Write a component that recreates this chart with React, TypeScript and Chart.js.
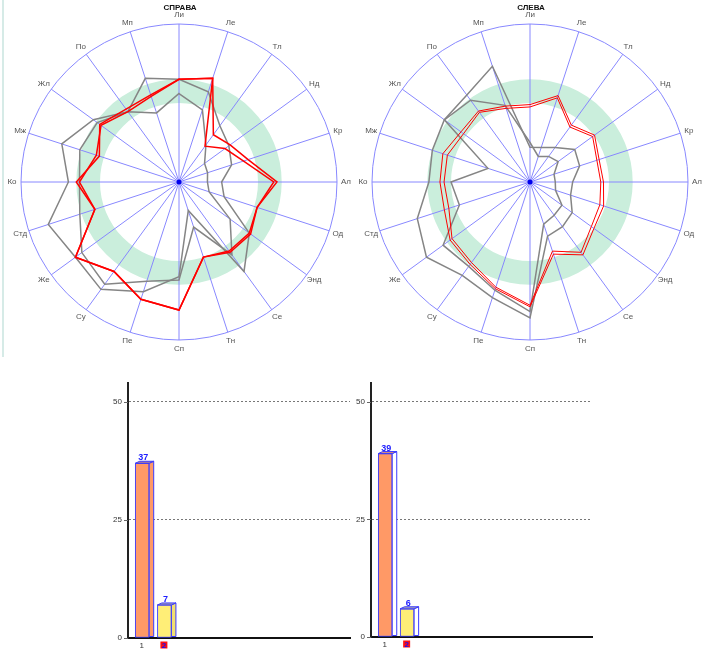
import React, { useEffect, useRef } from "react";
import { Chart, registerables } from "chart.js";

Chart.register(...registerables);

// ---------- radar data ----------
const radarLabels = ["Ли", "Ле", "Тл", "Нд", "Кр", "Ал", "Од", "Энд", "Се", "Тн", "Сп", "Пе", "Су", "Же", "Стд", "Ко", "Мж", "Жл", "По", "Мп"];

// СПРАВА
const spravaRedA = [65, 69, 37, 40, 46, 62, 52, 55, 54, 50, 81, 78, 70, 81, 56, 65, 53, 62, 57, 58];
const spravaRedB = [65, 69, 28, 36, 43, 60, 52, 56, 55, 50, 81, 78, 70, 81, 56, 63, 55, 61, 55, 57];
const spravaGrayA = [65, 60, 44, 39, 35, 27, 30, 55, 70, 19, 60, 73, 84, 81, 87, 70, 78, 67, 55, 69];
const spravaGrayB = [56, 48, 29, 20, 19, 18, 20, 40, 57, 30, 62, 66, 80, 76, 66, 63, 66, 64, 55, 46];

// СЛЕВА
const slevaRedA = [49, 57.5, 44.5, 50.5, 46, 46.5, 49, 50, 57, 48, 79, 71, 64.5, 62.5, 57, 57, 58, 54, 55.5, 50.5];
const slevaRedB = [47.5, 56, 43, 49, 44.5, 44.8, 46.5, 48, 55, 46, 78, 70, 63, 61, 54, 54.4, 55, 52, 54.5, 49];
const slevaGrayA = [22, 23, 27, 35, 33, 27, 27, 33, 35, 36, 86, 77, 73, 81, 75, 64, 65, 67, 68, 77];
const slevaGrayB = [25, 17, 20, 22, 16, 16, 17, 25, 26, 28, 82, 72, 66, 68, 47, 50, 28, 67, 64, 51];

const radarMax = 100;
const ringBand = [50, 65];

// ---------- bar data ----------
const barCategories = ["1", "2"];
const spravaBars = [37, 7];
const slevaBars = [39, 6];
const barTicks = [0, 25, 50];
const barMax = 54;

const FONT = "'Liberation Sans', Arial, sans-serif";
const SPOKE = "#8888ff";

const ringPlugin = {
  id: "ringBand",
  beforeDraw(chart: any) {
    const s = chart.scales.r;
    const ctx = chart.ctx;
    const rIn = s.getDistanceFromCenterForValue(ringBand[0]);
    const rOut = s.getDistanceFromCenterForValue(ringBand[1]);
    ctx.save();
    ctx.beginPath();
    ctx.arc(s.xCenter, s.yCenter, rOut, 0, Math.PI * 2);
    ctx.closePath();
    ctx.moveTo(s.xCenter + rIn, s.yCenter);
    ctx.arc(s.xCenter, s.yCenter, rIn, 0, Math.PI * 2);
    ctx.closePath();
    ctx.fillStyle = "#caeedc";
    ctx.fill("evenodd");
    ctx.restore();
  },
};

function radarDecor(title: string) {
  return {
    id: "radarDecor",
    afterDraw(chart: any) {
      const s = chart.scales.r;
      const ctx = chart.ctx;
      ctx.save();
      ctx.fillStyle = "#0000ee";
      ctx.beginPath();
      ctx.arc(s.xCenter, s.yCenter, 2.5, 0, Math.PI * 2);
      ctx.fill();
      ctx.font = `8px ${FONT}`;
      ctx.fillStyle = "#555";
      ctx.textAlign = "center";
      ctx.textBaseline = "middle";
      (chart.data.labels as string[]).forEach((lab, i) => {
        const p = s.getPointPosition(i, s.drawingArea + 9);
        ctx.fillText(lab, p.x, p.y);
      });
      ctx.font = `bold 8px ${FONT}`;
      ctx.fillStyle = "#111";
      ctx.fillText(title, s.xCenter + 1, 8);
      ctx.restore();
    },
  };
}

function makeRadar(canvas: HTMLCanvasElement, title: string, reds: number[][], grays: number[][], redWidth: number, padding: any) {
  const datasets: any[] = [];
  reds.forEach((d) =>
    datasets.push({ data: d, borderColor: "#ff0000", borderWidth: redWidth, fill: false, pointRadius: 0 })
  );
  grays.forEach((d) =>
    datasets.push({ data: d, borderColor: "#858585", borderWidth: 1.5, fill: false, pointRadius: 0 })
  );
  return new Chart(canvas, {
    type: "radar",
    data: { labels: radarLabels, datasets },
    options: {
      animation: false,
      responsive: false,
      maintainAspectRatio: false,
      layout: { padding },
      plugins: { legend: { display: false }, tooltip: { enabled: false } },
      elements: { line: { tension: 0 }, point: { radius: 0 } },
      scales: {
        r: {
          min: 0,
          max: radarMax,
          ticks: { display: false, stepSize: radarMax },
          grid: { circular: true, color: SPOKE, lineWidth: 1 },
          angleLines: { color: SPOKE, lineWidth: 1 },
          pointLabels: { display: false },
        },
      },
    } as any,
    plugins: [ringPlugin, radarDecor(title)],
  });
}

function barDecor(sideColors: string[], topColors: string[]) {
  return {
    id: "barDecor",
    afterDatasetsDraw(chart: any) {
      const ctx = chart.ctx;
      const meta = chart.getDatasetMeta(0);
      const ds = chart.data.datasets[0];
      const dx = 4.5;
      const dy = 2;
      meta.data.forEach((bar: any, i: number) => {
        const { x, y, base, width } = bar.getProps(["x", "y", "base", "width"], true);
        const l = x - width / 2;
        const r = x + width / 2;
        ctx.save();
        ctx.lineWidth = 1;
        ctx.strokeStyle = "#3a3aff";
        ctx.beginPath();
        ctx.moveTo(r, y);
        ctx.lineTo(r + dx, y - dy);
        ctx.lineTo(r + dx, base - 1);
        ctx.lineTo(r, base - 1);
        ctx.closePath();
        ctx.fillStyle = sideColors[i];
        ctx.fill();
        ctx.stroke();
        ctx.beginPath();
        ctx.moveTo(l, y);
        ctx.lineTo(l + dx, y - dy);
        ctx.lineTo(r + dx, y - dy);
        ctx.lineTo(r, y);
        ctx.closePath();
        ctx.fillStyle = topColors[i];
        ctx.fill();
        ctx.stroke();
        ctx.font = `bold 9px ${FONT}`;
        ctx.fillStyle = "#2020ff";
        ctx.textAlign = "center";
        ctx.textBaseline = "alphabetic";
        ctx.fillText(String(ds.data[i].y), x + 1, y - dy - 1);
        ctx.restore();
      });
    },
    afterDraw(chart: any) {
      const ctx = chart.ctx;
      const ys = chart.scales.y;
      const xs = chart.scales.x;
      const area = chart.chartArea;
      ctx.save();
      ctx.font = `8px ${FONT}`;
      ctx.fillStyle = "#333";
      ctx.textAlign = "right";
      ctx.textBaseline = "middle";
      barTicks.forEach((t) => {
        const py = ys.getPixelForValue(t);
        ctx.fillText(String(t), area.left - 6, py);
        ctx.strokeStyle = "#666";
        ctx.lineWidth = 1;
        ctx.beginPath();
        ctx.moveTo(area.left - 4, Math.round(py) + 0.5);
        ctx.lineTo(area.left, Math.round(py) + 0.5);
        ctx.stroke();
      });
      ctx.textAlign = "center";
      barCategories.forEach((c, i) => {
        const px = xs.getPixelForValue(i + 1) - 1;
        const py = area.bottom + 7;
        if (i === 1) {
          ctx.fillStyle = "#ff1010";
          ctx.fillRect(px - 3, py - 3.5, 7, 7);
          ctx.font = `bold 8px ${FONT}`;
          ctx.fillStyle = "#1010ff";
        } else {
          ctx.font = `8px ${FONT}`;
          ctx.fillStyle = "#333";
        }
        ctx.fillText(c, px + 0.5, py + 0.5);
      });
      ctx.restore();
    },
  };
}

function makeBars(canvas: HTMLCanvasElement, values: number[], xMin: number, xMax: number, padding: any, sideColors: string[], topColors: string[]) {
  return new Chart(canvas, {
    type: "bar",
    data: {
      datasets: [
        {
          data: barCategories.map((c, i) => ({ x: Number(c), y: values[i] })),
          backgroundColor: ["#ff9966", "#ffee77"],
          borderColor: "#3a3aff",
          borderWidth: 1,
          borderSkipped: false,
          barThickness: 14,
        },
      ],
    },
    options: {
      animation: false,
      responsive: false,
      maintainAspectRatio: false,
      layout: { padding },
      plugins: { legend: { display: false }, tooltip: { enabled: false } },
      scales: {
        x: {
          type: "linear",
          min: xMin,
          max: xMax,
          offset: false,
          ticks: { display: false },
          grid: { display: false, drawTicks: false },
          border: { display: true, color: "#111", width: 2 },
        },
        y: {
          min: 0,
          max: barMax,
          afterBuildTicks: (s: any) => {
            s.ticks = barTicks.map((v) => ({ value: v }));
          },
          ticks: { display: false },
          grid: {
            drawTicks: false,
            color: (c: any) => (c.tick && c.tick.value === 0 ? "rgba(0,0,0,0)" : "#777"),
            lineWidth: 1,
          },
          border: { display: true, color: "#222", width: 2, dash: [2, 2] },
        },
      },
    } as any,
    plugins: [barDecor(sideColors, topColors)],
  });
}

export default function App() {
  const r1 = useRef<HTMLCanvasElement>(null);
  const r2 = useRef<HTMLCanvasElement>(null);
  const b1 = useRef<HTMLCanvasElement>(null);
  const b2 = useRef<HTMLCanvasElement>(null);

  useEffect(() => {
    const charts = [
      makeRadar(r1.current!, "СПРАВА", [spravaRedA, spravaRedB], [spravaGrayA, spravaGrayB], 1.5, { left: 21, right: 18, top: 24, bottom: 22 }),
      makeRadar(r2.current!, "СЛЕВА", [slevaRedA, slevaRedB], [slevaGrayA, slevaGrayB], 1, { left: 20, right: 17, top: 24, bottom: 22 }),
      makeBars(b1.current!, spravaBars, 0.36, 10.36, { left: 38, right: 5, top: 8, bottom: 22 }, ["#ff9966", "#f2e070"], ["#b8848a", "#a8a8a8"]),
      makeBars(b2.current!, slevaBars, 0.35, 10.44, { left: 31, right: 13, top: 8, bottom: 23 }, ["#ffffff", "#ffffff"], ["#d89080", "#a8a8a8"]),
    ];
    return () => charts.forEach((c) => c.destroy());
  }, []);

  const abs = (l: number, t: number, w: number, h: number): React.CSSProperties => ({
    position: "absolute",
    left: l,
    top: t,
    width: w,
    height: h,
  });

  return (
    <div style={{ position: "absolute", left: 0, top: 0, width: 705, height: 664, background: "#fff", overflow: "hidden" }}>
      <div style={{ ...abs(2, 0, 2, 357), background: "#d6ebe7" }} />
      <canvas ref={r1} width={355} height={362} style={abs(0, 0, 355, 362)} />
      <canvas ref={r2} width={353} height={362} style={abs(352, 0, 353, 362)} />
      <canvas ref={b1} width={265} height={285} style={abs(90, 375, 265, 285)} />
      <canvas ref={b2} width={265} height={285} style={abs(340, 375, 265, 285)} />
    </div>
  );
}
